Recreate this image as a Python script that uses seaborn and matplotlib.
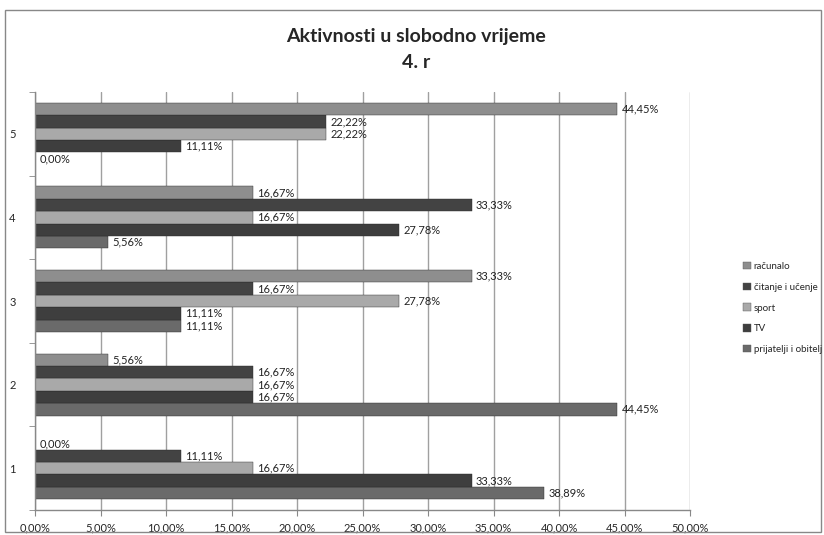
import matplotlib
matplotlib.use("Agg")
import matplotlib.pyplot as plt
import seaborn as sns
import pandas as pd
import numpy as np
from matplotlib.patches import Rectangle, Patch

categories = ["1", "2", "3", "4", "5"]
series = ["prijatelji i obitelj", "TV", "sport", "čitanje i učenje", "računalo"]
prijatelji = [38.89, 44.45, 11.11, 5.56, 0.00]
tv = [33.33, 16.67, 11.11, 27.78, 11.11]
sport = [16.67, 16.67, 27.78, 16.67, 22.22]
citanje = [11.11, 16.67, 16.67, 33.33, 22.22]
racunalo = [0.00, 5.56, 33.33, 16.67, 44.45]
xticks = [0, 5, 10, 15, 20, 25, 30, 35, 40, 45, 50]

colors = ["#6a6a6a", "#3e3e3e", "#a9a9a9", "#434343", "#8e8e8e"]

rows = []
for s, vals in zip(series, [prijatelji, tv, sport, citanje, racunalo]):
    for c, v in zip(categories, vals):
        rows.append({"cat": c, "serie": s, "val": v})
df = pd.DataFrame(rows)

sns.set_style("white")
plt.rcParams["font.family"] = ["Lato", "DejaVu Sans"]

fig = plt.figure(figsize=(8.24, 5.35), dpi=100)
ax = fig.add_axes([35/824, 1-510/535, (690-35)/824, (510-92)/535])

sns.barplot(data=df, y="cat", x="val", hue="serie", order=categories,
            hue_order=series, palette=colors, orient="h", ax=ax,
            width=0.74, saturation=1, legend=False)
ax.invert_yaxis()

for cont in ax.containers:
    labels = [f"{b.get_width():.2f}%".replace(".", ",") for b in cont]
    ax.bar_label(cont, labels=labels, padding=3, fontsize=8, color="#222222")
    for b in cont:
        b.set_edgecolor("#2a2a2a")
        b.set_linewidth(0.3)

ax.set_xlim(0, 50)
ax.set_ylim(-0.5, 4.5)
ax.set_xticks(xticks)
ax.set_xticklabels([f"{t:.2f}%".replace(".", ",") for t in xticks], fontsize=8)
ax.set_yticks(range(5))
ax.set_yticklabels(categories, fontsize=8)
ax.set_yticks(np.arange(-0.5, 5, 1), minor=True)
ax.tick_params(axis="y", which="major", length=0, pad=14)
ax.tick_params(axis="y", which="minor", length=4, color="#888888", direction="out", left=True)
ax.tick_params(axis="x", which="major", length=4, color="#888888", direction="out", bottom=True, pad=5)
ax.set_xlabel("")
ax.set_ylabel("")
ax.grid(axis="x", color="#a0a0a0", linewidth=1)
ax.set_axisbelow(True)
for side in ["top", "right"]:
    ax.spines[side].set_visible(False)
for side in ["left", "bottom"]:
    ax.spines[side].set_color("#888888")
    ax.spines[side].set_linewidth(1)

fig.text(416/824, 1-37/535, "Aktivnosti u slobodno vrijeme", ha="center", va="center",
         fontsize=14, fontweight="bold")
fig.text(416/824, 1-62/535, "4. r", ha="center", va="center",
         fontsize=14, fontweight="bold")

handles = [Patch(facecolor=c, edgecolor="#555555", linewidth=0.3) for c in colors]
leg = fig.legend(handles[::-1], series[::-1], loc="center left",
                 bbox_to_anchor=(738/824, 1-308/535), frameon=False,
                 fontsize=7, handlelength=0.8, handleheight=0.8,
                 handletextpad=0.3, labelspacing=1.2, borderpad=0)

fig.patches.append(Rectangle((5/824, 3/535), 816/824, 1-10/535-3/535,
                             transform=fig.transFigure, fill=False,
                             edgecolor="#888888", linewidth=1))

fig.savefig("out.png", dpi=100)
